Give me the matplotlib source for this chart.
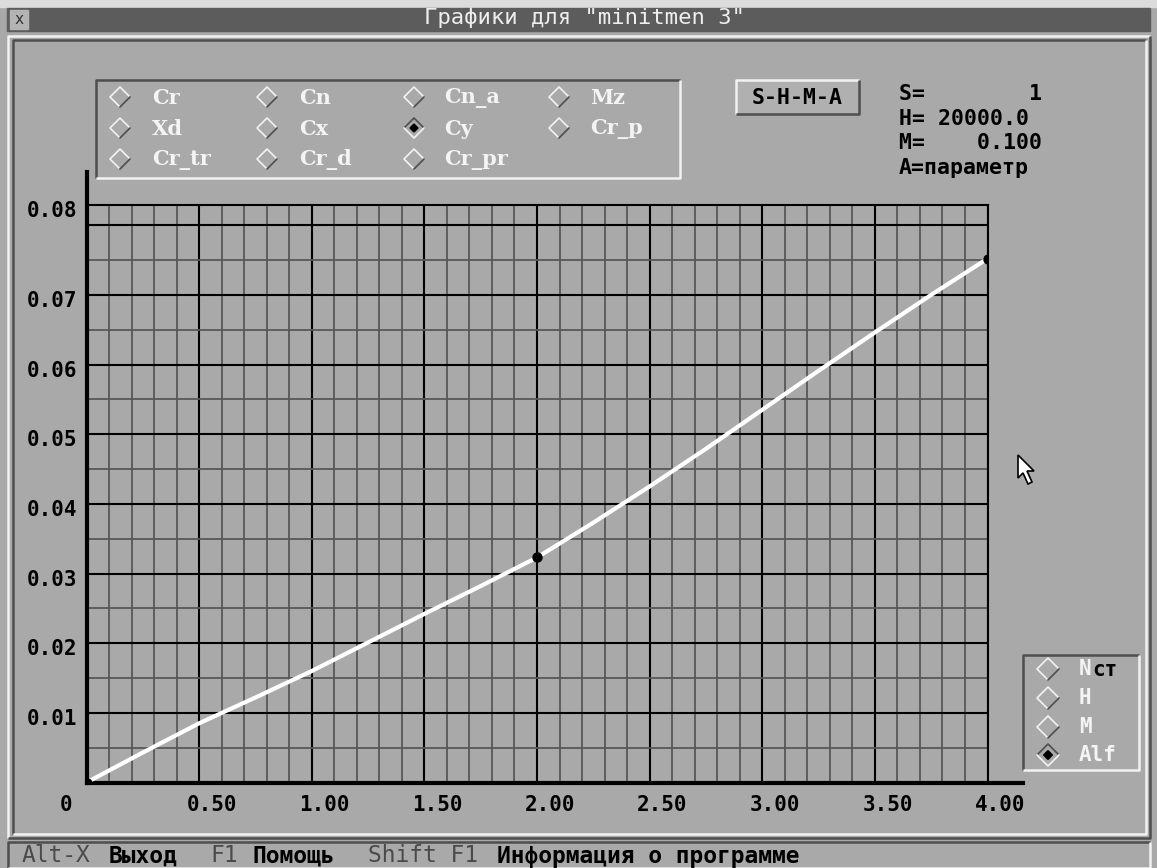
import numpy as np
import matplotlib
matplotlib.use('Agg')
import matplotlib.pyplot as plt
from matplotlib.patches import Rectangle, Polygon
import matplotlib.transforms as mtransforms

# ---------------- data ----------------
alf = [0.0, 0.25, 0.5, 0.75, 1.0, 1.25, 1.5, 1.75, 2.0, 2.25, 2.5, 2.75, 3.0, 3.25, 3.5, 3.75, 4.0]
cy = [0.0, 0.0043, 0.0085, 0.0122, 0.0160, 0.0201, 0.0242, 0.0282, 0.0323, 0.0373,
      0.0425, 0.0479, 0.0535, 0.0591, 0.0646, 0.0700, 0.0752]
marked = [0, 8, 16]

x_ticks = [0.0, 0.5, 1.0, 1.5, 2.0, 2.5, 3.0, 3.5, 4.0]
x_tick_labels = ['0', '0.50', '1.00', '1.50', '2.00', '2.50', '3.00', '3.50', '4.00']
y_ticks = [0.01, 0.02, 0.03, 0.04, 0.05, 0.06, 0.07, 0.08]
y_tick_labels = ['0.01', '0.02', '0.03', '0.04', '0.05', '0.06', '0.07', '0.08']
y_top = 0.0829

options = [['Cr', 'Cn', 'Cn_a', 'Mz'],
           ['Xd', 'Cx', 'Cy', 'Cr_p'],
           ['Cr_tr', 'Cr_d', 'Cr_pr']]
selected_option = 'Cy'
params = ['Nст', 'H', 'M', 'Alf']
selected_param = 'Alf'
info_lines = ['S=        1', 'H= 20000.0', 'M=    0.100', 'A=параметр']
title = 'Графики для "minitmen 3"'
button = 'S-H-M-A'
status = [('Alt-X', False), ('Выход', True), ('F1', False), ('Помощь', True),
          ('Shift F1', False), ('Информация о программе', True)]

# ---------------- styles ----------------
W, H = 1157, 868
BG = '#a9a9a9'
DARK = '#4e4e4e'
LIGHT = '#f2f2f2'
MONO = 'DejaVu Sans Mono'
SERIF = 'DejaVu Serif'

fig = plt.figure(figsize=(W / 100, H / 100), dpi=100)
fig.patch.set_facecolor(BG)
bg = fig.add_axes([0, 0, 1, 1])
bg.set_xlim(0, W)
bg.set_ylim(H, 0)
bg.axis('off')


def fr(x0, y0, x1, y1):
    return [x0 / W, 1 - y1 / H, (x1 - x0) / W, (y1 - y0) / H]


def box3d(x0, y0, x1, y1, raised=True, lw=1.6):
    c1 = LIGHT if raised else DARK
    c2 = DARK if raised else LIGHT
    bg.plot([x0, x0, x1], [y1, y0, y0], color=c1, lw=lw, solid_capstyle='butt')
    bg.plot([x0, x1, x1], [y1, y1, y0], color=c2, lw=lw, solid_capstyle='butt')


def diamond(cx, cy_, r, sel):
    L, T, R, B = (cx - r, cy_), (cx, cy_ - r), (cx + r, cy_), (cx, cy_ + r)
    lw = 1.2
    if sel:
        bg.plot([L[0], T[0], R[0]], [L[1], T[1], R[1]], color=DARK, lw=lw)
        bg.plot([L[0], B[0], R[0]], [L[1], B[1], R[1]], color=LIGHT, lw=lw)
        rr = r * 0.4
        bg.add_patch(Polygon([(cx - rr, cy_), (cx, cy_ - rr), (cx + rr, cy_), (cx, cy_ + rr)],
                             closed=True, color='black'))
    else:
        bg.plot([B[0], L[0], T[0], R[0]], [B[1], L[1], T[1], R[1]], color=LIGHT, lw=lw)
        bg.plot([R[0], B[0]], [R[1], B[1]], color=DARK, lw=lw)


# top strip and title bar
bg.add_patch(Rectangle((0, 0), W, 7, color='#dcdcdc'))
bg.add_patch(Rectangle((7, 8), 1143, 23, color='#5c5c5c'))
bg.add_patch(Rectangle((10, 10), 18, 19, color='#b4b4b4'))
bg.text(19, 19.5, 'x', ha='center', va='center', fontsize=11, family=MONO, color='#303030')
bg.text(585, 18, title, ha='center', va='center', fontsize=16, family=MONO, color='#eeeeee')

# window frame
box3d(8, 36, 1150, 838, raised=True, lw=1.8)
box3d(13, 40, 1146, 834, raised=False, lw=1.8)

# status bar
box3d(8, 842, 1150, 868, raised=False, lw=1.8)
sx = [22, 109, 210, 253, 368, 497]
for (txt, strong), x0 in zip(status, sx):
    bg.text(x0, 856, txt, ha='left', va='center', fontsize=16.5, family=MONO,
            fontweight='bold' if strong else 'normal',
            color='black' if strong else '#4a4a4a')

# options box
box3d(96, 80, 680, 178, raised=False, lw=1.8)
col_d = [120, 267, 414, 559]
col_t = [152, 299, 444, 590]
row_y = [97, 128, 159]
for r, row in enumerate(options):
    for c, name in enumerate(row):
        diamond(col_d[c], row_y[r], 10, name == selected_option)
        bg.text(col_t[c], row_y[r] + 1, name, ha='left', va='center', fontsize=15,
                family=SERIF, fontweight='bold', color='#f4f4f4')

# button
bg.add_patch(Rectangle((736, 80), 123, 34, color='#b0b0b0'))
box3d(736, 80, 859, 114, raised=True, lw=1.8)
bg.text(797.5, 97.5, button, ha='center', va='center', fontsize=15.5, family=MONO,
        fontweight='bold', color='black')

# info
info_y = [94, 119, 143, 168]
for txt, yy in zip(info_lines, info_y):
    bg.text(899, yy, txt, ha='left', va='center', fontsize=15.5, family=MONO,
            fontweight='bold', color='black')

# parameter box
box3d(1023, 655, 1139, 770, raised=False, lw=1.8)
p_y = [669, 698, 727, 755]
for name, yy in zip(params, p_y):
    diamond(1048, yy, 11, name == selected_param)
    if name == 'Nст':
        bg.text(1079, yy, 'N', ha='left', va='center', fontsize=15, family=MONO,
                fontweight='bold', color='#f4f4f4')
        bg.text(1092, yy + 1, 'ст', ha='left', va='center', fontsize=15, family=MONO,
                fontweight='bold', color='black')
    else:
        bg.text(1079, yy, name, ha='left', va='center', fontsize=15, family=MONO,
                fontweight='bold', color='#f4f4f4')

# mouse cursor
bg.add_patch(Polygon([(1018, 455), (1018, 478), (1023, 473), (1028, 484), (1032, 482),
                      (1027, 471), (1034, 471)], closed=True, facecolor='white',
                     edgecolor='black', lw=1.2, zorder=5))

# ---------------- chart ----------------
ax = fig.add_axes(fr(86.5, 205, 987.5, 782.5))
ax.set_facecolor('none')
ax.set_xlim(0, 4.0)
ax.set_ylim(0, y_top)
ax.set_xticks(x_ticks)
ax.set_xticklabels(x_tick_labels)
ax.set_xticks(np.arange(0.1, 4.0, 0.1), minor=True)
ax.set_yticks(y_ticks)
ax.set_yticklabels(y_tick_labels)
ax.set_yticks(np.arange(0.005, 0.081, 0.01), minor=True)
ax.tick_params(which='both', length=0)
ax.tick_params(axis='x', pad=9)
ax.tick_params(axis='y', pad=7)
for lab in ax.get_xticklabels() + ax.get_yticklabels():
    lab.set_fontfamily(MONO)
    lab.set_fontweight('bold')
    lab.set_fontsize(15)
    lab.set_color('black')

ax.grid(which='minor', color='#585858', lw=1.3)
ax.grid(which='major', color='black', lw=1.5)
ax.set_axisbelow(True)

for s in ['top', 'right']:
    ax.spines[s].set_linewidth(1.5)
    ax.spines[s].set_color('black')
for s in ['left', 'bottom']:
    ax.spines[s].set_visible(False)
ax.axvline(0, 0, 1.057, color='black', lw=3, clip_on=False, zorder=3)
ax.axhline(0, 0, 1.039, color='black', lw=3, clip_on=False, zorder=3)

# tick label offsets (DOS style placement)
for lab, val in zip(ax.get_xticklabels(), x_ticks):
    dx = -20 if val == 0 else 13
    lab.set_transform(lab.get_transform() + mtransforms.ScaledTranslation(dx / 100, 0, fig.dpi_scale_trans))
for lab, val in zip(ax.get_yticklabels(), y_ticks):
    dy = 16 if val == 0.08 else -4
    lab.set_transform(lab.get_transform() + mtransforms.ScaledTranslation(0, dy / 100, fig.dpi_scale_trans))

ax.plot(alf, cy, color='white', lw=3.0, solid_capstyle='round', zorder=4,
        marker='o', markevery=marked, markersize=6.5, markerfacecolor='black',
        markeredgecolor='black')

fig.savefig('out.png', dpi=100, facecolor=BG)
